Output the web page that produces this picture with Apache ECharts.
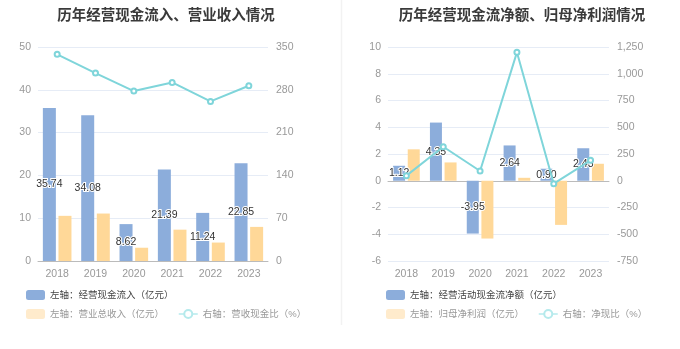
<!DOCTYPE html>
<html><head><meta charset="utf-8">
<script src="https://cdn.jsdelivr.net/npm/echarts@6/dist/echarts.min.js"></script>
<style>html,body{margin:0;padding:0;background:#fff}#c{width:680px;height:349px}</style>
</head><body><div id="c"></div>
<script>
const years = ['2018','2019','2020','2021','2022','2023'];
// left chart
const cashInflow = [35.74, 34.08, 8.62, 21.39, 11.24, 22.85];
const revenue = [10.55, 11.09, 3.10, 7.32, 4.31, 7.97];
const cashRevRatio = [338.0, 307.4, 277.9, 292.1, 261.0, 286.7];
// right chart
const netCashFlow = [1.12, 4.35, -3.95, 2.64, 0.90, 2.43];
const netProfit = [2.35, 1.37, -4.32, 0.22, -3.30, 1.27];
const netCashRatio = [47.7, 317.5, 91.4, 1200, -27.3, 191];

const leftTicks = {min:0, max:50, interval:10};
const leftRTicks = {min:0, max:350, interval:70};
const rightTicks = {min:-6, max:10, interval:2};
const rightRTicks = {min:-750, max:1250, interval:250};

const FONT = '"Liberation Sans","Noto Sans CJK SC",sans-serif';
const BLUE = '#8CADDB', YEL = '#FFD898', CYAN = '#7FD5DA';
const names = {
  a1:'左轴：经营现金流入（亿元）', a2:'左轴：营业总收入（亿元）', a3:'右轴：营收现金比（%）',
  b1:'左轴：经营活动现金流净额（亿元）', b2:'左轴：归母净利润（亿元）', b3:'右轴：净现比（%）'
};
const axisLbl = {color:'#999', fontSize:10.5, fontFamily:FONT};
const split = {show:true, lineStyle:{color:'#E6ECF6', width:1}};
const barLabel = {show:true, position:'inside', color:'#333', fontSize:10.5, fontFamily:FONT,
  textBorderColor:'#fff', textBorderWidth:2, formatter: p => p.value.toFixed(2)};

const chart = echarts.init(document.getElementById('c'), null, {renderer:'canvas'});
function legendRow(left, top, items){
  return {left, top, itemWidth:19, itemHeight:10, itemGap:14,
    textStyle:{fontSize:9.5, fontFamily:FONT, color:'#444'}, data: items};
}
const lineLegend = n => ({name:n, itemStyle:{color:'#B5EAEC', borderWidth:1.5}, lineStyle:{color:'#B5EAEC', width:1.5}, textStyle:{color:'#999'}});
chart.setOption({
  animation:false,
  textStyle:{fontFamily:FONT},
  title:[
    {text:'历年经营现金流入、营业收入情况', left:161, top:4, textAlign:'center',
      textStyle:{fontSize:14.5, fontWeight:'bold', color:'#3a3a3a', fontFamily:FONT}},
    {text:'历年经营现金流净额、归母净利润情况', left:517, top:4, textAlign:'center',
      textStyle:{fontSize:14.5, fontWeight:'bold', color:'#3a3a3a', fontFamily:FONT}}
  ],
  graphic:[{type:'line', shape:{x1:341.5,y1:0,x2:341.5,y2:325}, style:{stroke:'#F2F2F2', lineWidth:1.5}}],
  legend:[
    legendRow(21, 285, [{name:names.a1, icon:'roundRect'}]),
    legendRow(21, 304, [{name:names.a2, icon:'roundRect', itemStyle:{color:'#FFEBCC'}, textStyle:{color:'#999'}}, lineLegend(names.a3)]),
    legendRow(381, 285, [{name:names.b1, icon:'roundRect'}]),
    legendRow(381, 304, [{name:names.b2, icon:'roundRect', itemStyle:{color:'#FFEBCC'}, textStyle:{color:'#999'}}, lineLegend(names.b3)])
  ],
  grid:[
    {left:38, right:412, top:47, bottom:88},
    {left:388, right:71, top:47, bottom:88}
  ],
  xAxis:[
    {gridIndex:0, type:'category', data:years, axisLine:{lineStyle:{color:'#BBB'}},
      axisTick:{alignWithLabel:true, length:3, lineStyle:{color:'#BBB'}}, axisLabel:axisLbl},
    {gridIndex:1, type:'category', data:years, axisLine:{show:false, onZero:false},
      axisTick:{show:false}, axisLabel:axisLbl},
    {gridIndex:1, type:'category', data:years, axisLine:{onZero:true, onZeroAxisIndex:2, lineStyle:{color:'#BBB'}},
      axisTick:{alignWithLabel:true, length:3, lineStyle:{color:'#BBB'}}, axisLabel:{show:false}}
  ],
  yAxis:[
    Object.assign({gridIndex:0, type:'value', axisLabel:Object.assign({margin:7}, axisLbl), splitLine:split, axisLine:{show:false}, axisTick:{show:false}}, leftTicks),
    Object.assign({gridIndex:0, type:'value', position:'right', axisLabel:Object.assign({margin:8}, axisLbl), splitLine:{show:false}, axisLine:{show:false}, axisTick:{show:false}}, leftRTicks),
    Object.assign({gridIndex:1, type:'value', axisLabel:Object.assign({margin:7}, axisLbl), splitLine:split, axisLine:{show:false}, axisTick:{show:false}}, rightTicks),
    Object.assign({gridIndex:1, type:'value', position:'right', axisLabel:Object.assign({margin:8, formatter: v => v.toLocaleString('en-US')}, axisLbl), splitLine:{show:false}, axisLine:{show:false}, axisTick:{show:false}}, rightRTicks)
  ],
  series:[
    {name:names.a1, type:'bar', xAxisIndex:0, yAxisIndex:0, data:cashInflow, barWidth:13, barGap:'20%', itemStyle:{color:BLUE}, label:barLabel, z:3},
    {name:names.a2, type:'bar', xAxisIndex:0, yAxisIndex:0, data:revenue, barWidth:13, barGap:'20%', itemStyle:{color:YEL}},
    {name:names.a3, type:'line', xAxisIndex:0, yAxisIndex:1, data:cashRevRatio, symbol:'emptyCircle', symbolSize:5, lineStyle:{color:CYAN, width:2}, itemStyle:{color:CYAN}, z:4},
    {name:names.b1, type:'bar', xAxisIndex:2, yAxisIndex:2, data:netCashFlow, barWidth:12, barGap:'22%', itemStyle:{color:BLUE}, label:barLabel, z:3},
    {name:names.b2, type:'bar', xAxisIndex:2, yAxisIndex:2, data:netProfit, barWidth:12, barGap:'22%', itemStyle:{color:YEL}},
    {name:names.b3, type:'line', xAxisIndex:2, yAxisIndex:3, data:netCashRatio, symbol:'emptyCircle', symbolSize:5, lineStyle:{color:CYAN, width:2}, itemStyle:{color:CYAN}, z:4}
  ]
});
</script></body></html>
